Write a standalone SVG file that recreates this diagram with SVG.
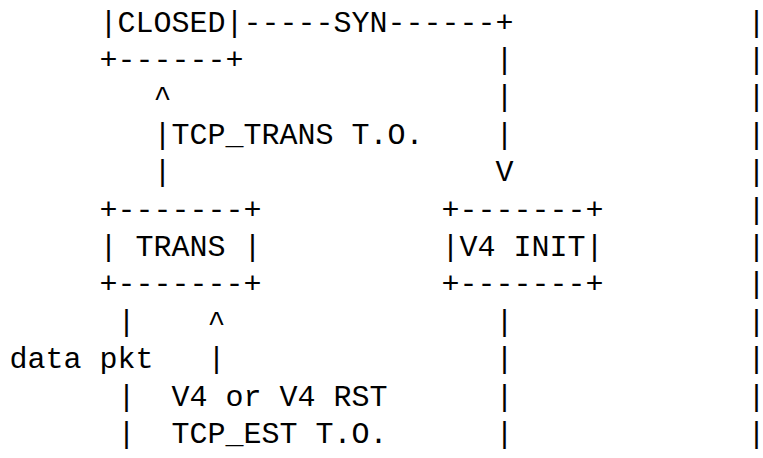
<svg xmlns="http://www.w3.org/2000/svg" width="763" height="458" viewBox="0 0 763 458">
<style>
text { font-family: "Liberation Mono", "DejaVu Sans Mono", monospace; font-size: 30px; fill: #000; white-space: pre; }
.edge { letter-spacing: -6px; }
</style>
<rect width="763" height="458" fill="#fff"/>
<g id="node-closed">
<text x="99.5" y="31.5">|CLOSED|</text>
<text x="99.5" y="68.9">+------+</text>
</g>
<g id="node-trans">
<text x="99.5" y="218.5">+-------+</text>
<text x="99.5" y="255.9" xml:space="preserve">| TRANS |</text>
<text x="99.5" y="293.3">+-------+</text>
</g>
<g id="node-v4init">
<text x="441.5" y="218.5">+-------+</text>
<text x="441.5" y="255.9" xml:space="preserve">|V4 INIT|</text>
<text x="441.5" y="293.3">+-------+</text>
</g>
<g id="connectors">
<text x="243.5" y="31.5">-----SYN------+</text>
<text x="495.5" y="68.9">|</text>
<text x="495.5" y="106.3">|</text>
<text x="495.5" y="143.7">|</text>
<text x="495.5" y="181.1">V</text>
<text x="495.5" y="330.7">|</text>
<text x="495.5" y="368.1">|</text>
<text x="495.5" y="405.5">|</text>
<text x="495.5" y="442.9">|</text>
<text x="153.5" y="106.3">^</text>
<text x="153.5" y="143.7">|</text>
<text x="153.5" y="181.1">|</text>
<text x="117.5" y="330.7">|</text>
<text x="117.5" y="405.5">|</text>
<text x="117.5" y="442.9">|</text>
<text x="207.5" y="330.7">^</text>
<text x="207.5" y="368.1">|</text>
<text class="edge" x="747.5" y="31.5">|</text>
<text class="edge" x="747.5" y="68.9">|</text>
<text class="edge" x="747.5" y="106.3">|</text>
<text class="edge" x="747.5" y="143.7">|</text>
<text class="edge" x="747.5" y="181.1">|</text>
<text class="edge" x="747.5" y="218.5">|</text>
<text class="edge" x="747.5" y="255.9">|</text>
<text class="edge" x="747.5" y="293.3">|</text>
<text class="edge" x="747.5" y="330.7">|</text>
<text class="edge" x="747.5" y="368.1">|</text>
<text class="edge" x="747.5" y="405.5">|</text>
<text class="edge" x="747.5" y="442.9">|</text>
</g>
<g id="labels">
<text x="171.5" y="143.7">TCP_TRANS T.O.</text>
<text x="9.5" y="368.1">data pkt</text>
<text x="171.5" y="405.5">V4 or V4 RST</text>
<text x="171.5" y="442.9">TCP_EST T.O.</text>
</g>
</svg>
